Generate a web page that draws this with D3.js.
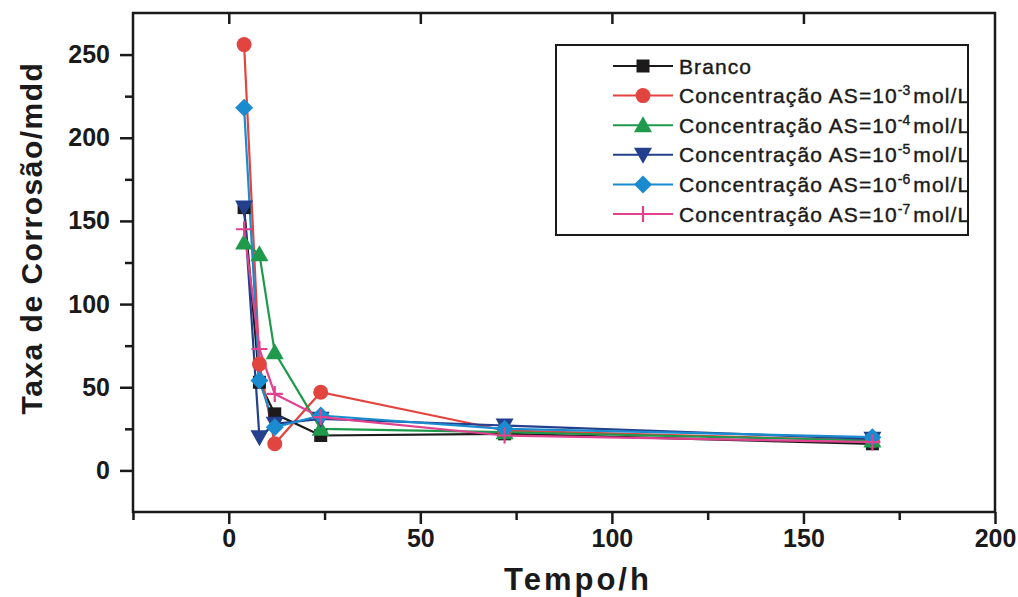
<!DOCTYPE html>
<html><head><meta charset="utf-8">
<script src="https://cdn.jsdelivr.net/npm/d3@7/dist/d3.min.js"></script>
<style>
html,body{margin:0;padding:0;background:#fff;}
svg{display:block;font-family:"Liberation Sans",Arial,sans-serif;}
</style></head>
<body>
<svg id="chart" width="1018" height="597"></svg>
<script>
const times = [4, 8, 12, 24, 72, 168];
const branco = [158, 53, 34, 21, 22, 16];
const as3 = [256, 64, 16, 47, 24, 18];
const as4 = [137, 130, 71, 25, 23, 18];
const as5 = [158, 20, 28, 31, 27, 19];
const as6 = [218, 54, 26, 33, 25, 20];
const as7 = [145, 73, 46, 32, 21, 17];
const seriesNames = ["Branco", "-3", "-4", "-5", "-6", "-7"];
const xMajorTicks = [0, 50, 100, 150, 200];
const xMinorTicks = [-25, 25, 75, 125, 175];
const yMajorTicks = [0, 50, 100, 150, 200, 250];
const yMinorTicks = [25, 75, 125, 175, 225];
const xTitle = "Tempo/h";
const yTitle = "Taxa de Corrosão/mdd";

const series = [
  {name: seriesNames[0], values: branco, color: "#1c1a1a", shape: "square"},
  {name: seriesNames[1], values: as3, color: "#e2453f", shape: "circle"},
  {name: seriesNames[2], values: as4, color: "#1f9a4c", shape: "triangle"},
  {name: seriesNames[3], values: as5, color: "#243f8c", shape: "down"},
  {name: seriesNames[4], values: as6, color: "#1b8bd0", shape: "diamond"},
  {name: seriesNames[5], values: as7, color: "#e0428e", shape: "plus"}
];

const L = 133, R = 995, T = 13, B = 512;
const svg = d3.select("#chart");
const x = d3.scaleLinear().domain([-25, 200]).range([L, R]);
const y = d3.scaleLinear().domain([-25, 275]).range([B, T]);

// Frame
svg.append("rect").attr("x", L).attr("y", T).attr("width", R - L).attr("height", B - T)
  .attr("fill", "none").attr("stroke", "#1a1a1a").attr("stroke-width", 2.5);

// Axes
const fmt = d3.format("d");
const xAxis = svg.append("g").attr("transform", `translate(0,${B})`)
  .call(d3.axisBottom(x).tickValues(xMajorTicks).tickSize(12).tickPadding(5).tickFormat(fmt));
const xMinor = svg.append("g").attr("transform", `translate(0,${B})`)
  .call(d3.axisBottom(x).tickValues(xMinorTicks).tickSize(8).tickFormat(""));
const xTop = svg.append("g").attr("transform", `translate(0,${T})`)
  .call(d3.axisBottom(x).tickValues(xMajorTicks.slice(0, 4)).tickSize(11).tickFormat(""));
const yAxis = svg.append("g").attr("transform", `translate(${L},0)`)
  .call(d3.axisLeft(y).tickValues(yMajorTicks).tickSize(13).tickPadding(10).tickFormat(fmt));
const yMinor = svg.append("g").attr("transform", `translate(${L},0)`)
  .call(d3.axisLeft(y).tickValues(yMinorTicks).tickSize(8).tickFormat(""));
[xAxis, xMinor, xTop, yAxis, yMinor].forEach(g => {
  g.select(".domain").remove();
  g.selectAll("line").attr("stroke", "#1a1a1a").attr("stroke-width", 2.5);
  g.selectAll("text").attr("fill", "#1a1a1a").attr("font-size", 25).attr("font-weight", "bold")
    .attr("font-family", "'Liberation Sans',Arial,sans-serif");
});

// Titles
svg.append("text").attr("x", (L + R) / 2 + 14).attr("y", 590).attr("text-anchor", "middle")
  .attr("font-size", 31).attr("font-weight", "bold").attr("letter-spacing", 3).attr("fill", "#1a1a1a")
  .text(xTitle);
svg.append("text").attr("transform", `translate(42,238) rotate(-90)`).attr("text-anchor", "middle")
  .attr("font-size", 30).attr("font-weight", "bold").attr("letter-spacing", 1.5).attr("fill", "#1a1a1a")
  .text(yTitle);

// Marker drawing
function marker(g, shape, color) {
  if (shape === "square") g.append("rect").attr("x", -6.5).attr("y", -6.5).attr("width", 13).attr("height", 13).attr("fill", color);
  else if (shape === "circle") g.append("circle").attr("r", 7.5).attr("fill", color);
  else if (shape === "triangle") g.append("path").attr("d", "M0,-9L9,7L-9,7Z").attr("fill", color);
  else if (shape === "down") g.append("path").attr("d", "M0,9L9,-7L-9,-7Z").attr("fill", color);
  else if (shape === "diamond") g.append("path").attr("d", "M0,-9L9,0L0,9L-9,0Z").attr("fill", color);
  else if (shape === "plus") g.append("path").attr("d", "M-8,0H8M0,-8V8").attr("stroke", color).attr("stroke-width", 2.2).attr("fill", "none");
}

const line = d3.line().x(d => x(d[0])).y(d => y(d[1]));
const plot = svg.append("g");
series.forEach(s => {
  const pts = times.map((t, i) => [t, s.values[i]]);
  plot.append("path").attr("d", line(pts)).attr("fill", "none").attr("stroke", s.color).attr("stroke-width", 2.2);
});
series.forEach(s => {
  times.forEach((t, i) => {
    const g = plot.append("g").attr("transform", `translate(${x(t)},${y(s.values[i])})`);
    marker(g, s.shape, s.color);
  });
});

// Legend
const lg = svg.append("g");
lg.append("rect").attr("x", 556).attr("y", 45).attr("width", 412).attr("height", 190)
  .attr("fill", "#fff").attr("stroke", "#1a1a1a").attr("stroke-width", 2);
series.forEach((s, i) => {
  const cy = 66 + i * 29.6;
  lg.append("line").attr("x1", 613).attr("x2", 673).attr("y1", cy).attr("y2", cy).attr("stroke", s.color).attr("stroke-width", 2);
  const g = lg.append("g").attr("transform", `translate(643,${cy})`);
  marker(g, s.shape, s.color);
  const t = lg.append("text").attr("x", 679).attr("y", cy + 7.5).attr("font-size", 21).attr("fill", "#1a1a1a")
    .attr("stroke", "#1a1a1a").attr("stroke-width", 0.4).attr("letter-spacing", 1.1);
  if (i === 0) t.text(s.name);
  else {
    t.append("tspan").text("Concentração AS=10");
    t.append("tspan").attr("dy", -8).attr("font-size", 14).attr("letter-spacing", 0).text(s.name);
    t.append("tspan").attr("dy", 8).attr("dx", 3).text("mol/L");
  }
});
</script>
</body></html>
